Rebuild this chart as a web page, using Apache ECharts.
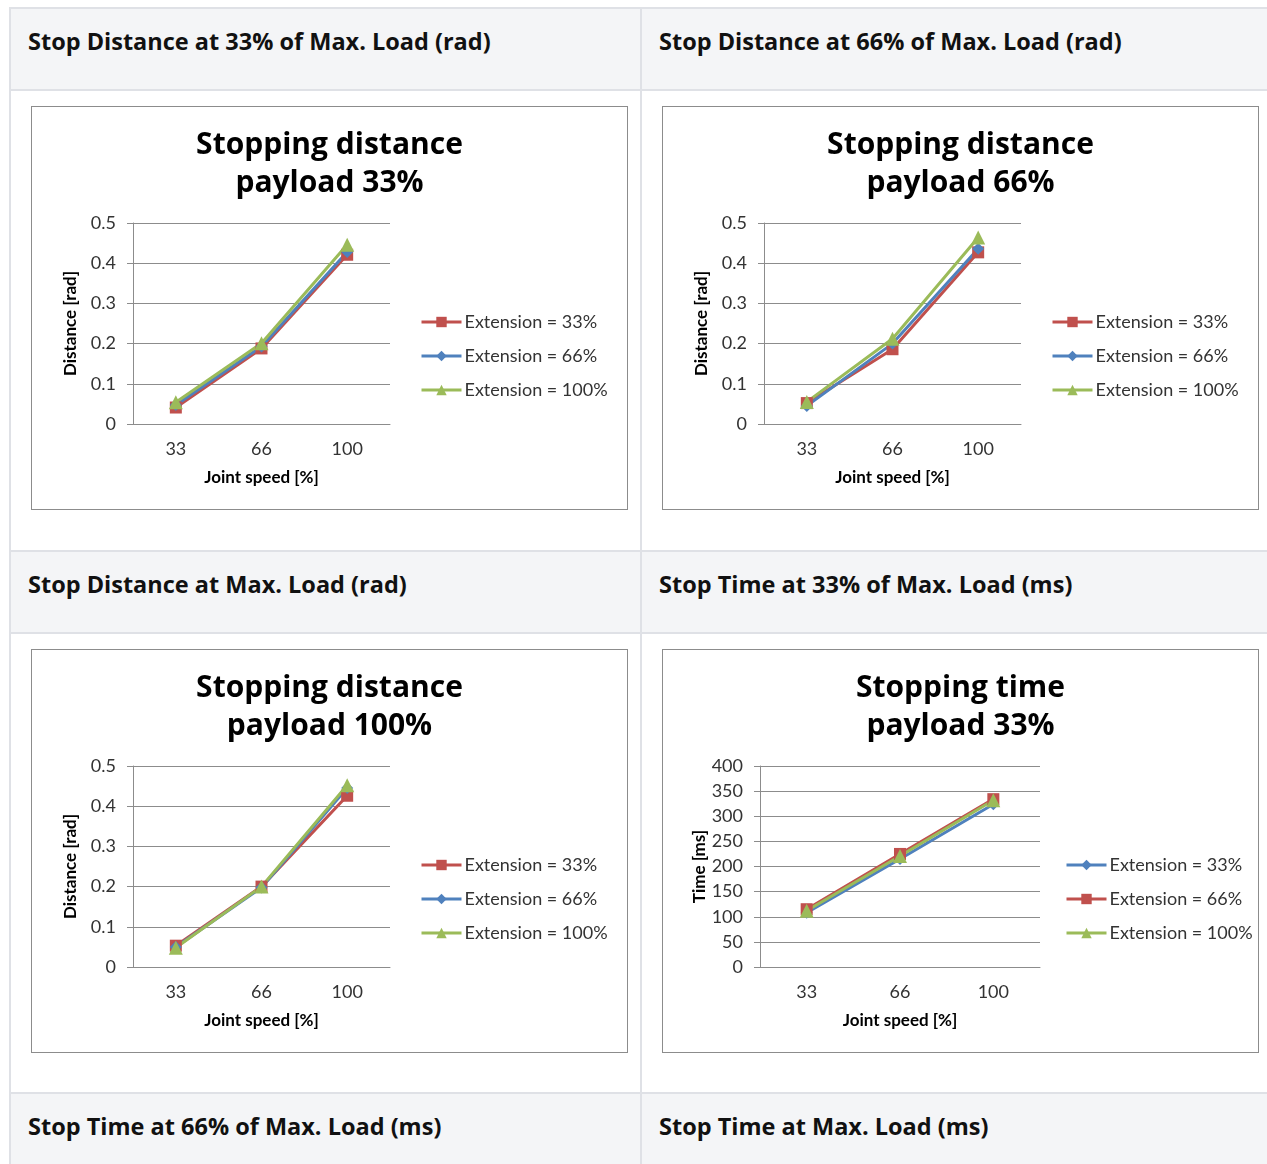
<!DOCTYPE html>
<html>
<head>
<meta charset="utf-8">
<script src="https://cdn.jsdelivr.net/npm/echarts@6/dist/echarts.min.js"></script>
<style>
  html, body { margin: 0; padding: 0; background: #fff; width: 1267px; height: 1164px; overflow: hidden; }
  .cell { position: absolute; box-sizing: border-box; }
  .hdr { background: #f4f5f7; }
  .hdr-text {
    position: absolute; left: 17px; top: 20px;
    font-family: "Open Sans", "Lato", sans-serif; font-weight: 700; font-size: 23.5px; line-height: 24px;
    color: #111; white-space: nowrap;
  }
  .hline { position: absolute; left: 9px; width: 1258px; height: 2px; background: #dfe1e6; }
  .vline { position: absolute; top: 7px; width: 2px; height: 1157px; background: #dfe1e6; }
  .frame { position: absolute; width: 597px; height: 404px; box-sizing: border-box; border: 1px solid #8c8c8c; background: #fff; }
  .frame > div { width: 100%; height: 100%; }
</style>
</head>
<body>
<!-- header row backgrounds -->
<div class="cell hdr" style="left:11px;top:9px;width:1256px;height:80px;"></div>
<div class="cell hdr" style="left:11px;top:552px;width:1256px;height:80px;"></div>
<div class="cell hdr" style="left:11px;top:1094px;width:1256px;height:70px;"></div>

<!-- table rules -->
<div class="hline" style="top:7px"></div>
<div class="hline" style="top:89px"></div>
<div class="hline" style="top:550px"></div>
<div class="hline" style="top:632px"></div>
<div class="hline" style="top:1092px"></div>
<div class="vline" style="left:9px"></div>
<div class="vline" style="left:640px"></div>

<div id="headers"></div>

<div class="frame" style="left:31px;top:106px"><div id="c1"></div></div>
<div class="frame" style="left:662px;top:106px"><div id="c2"></div></div>
<div class="frame" style="left:31px;top:649px"><div id="c3"></div></div>
<div class="frame" style="left:662px;top:649px"><div id="c4"></div></div>

<script>
// Table header texts
const headerTexts = [
  'Stop Distance at 33% of Max. Load (rad)',
  'Stop Distance at 66% of Max. Load (rad)',
  'Stop Distance at Max. Load (rad)',
  'Stop Time at 33% of Max. Load (ms)',
  'Stop Time at 66% of Max. Load (ms)',
  'Stop Time at Max. Load (ms)'
];

// Joint speed categories (x axis)
const speedCategories = ['33', '66', '100'];

// Stopping distance [rad], payload 33%
const distP33Ext33 = [0.041, 0.188, 0.421];
const distP33Ext66 = [0.047, 0.193, 0.428];
const distP33Ext100 = [0.054, 0.201, 0.446];

// Stopping distance [rad], payload 66%
const distP66Ext33 = [0.052, 0.186, 0.427];
const distP66Ext66 = [0.045, 0.200, 0.436];
const distP66Ext100 = [0.055, 0.212, 0.464];

// Stopping distance [rad], payload 100%
const distP100Ext33 = [0.053, 0.200, 0.426];
const distP100Ext66 = [0.050, 0.198, 0.445];
const distP100Ext100 = [0.048, 0.200, 0.452];

// Stopping time [ms], payload 33%
const timeP33Ext33 = [108, 215, 324];
const timeP33Ext66 = [115, 225, 334];
const timeP33Ext100 = [112, 221, 332];

// header cells
const hdrPos = [[11, 9], [642, 9], [11, 552], [642, 552], [11, 1094], [642, 1094]];
const hdrBox = document.getElementById('headers');
headerTexts.forEach((t, i) => {
  const d = document.createElement('div');
  d.className = 'cell';
  d.style.left = hdrPos[i][0] + 'px';
  d.style.top = hdrPos[i][1] + 'px';
  d.style.width = '620px';
  d.style.height = '70px';
  const s = document.createElement('span');
  s.className = 'hdr-text';
  s.textContent = t;
  d.appendChild(s);
  hdrBox.appendChild(d);
});

const RED = '#c0504d', BLUE = '#4f81bd', GREEN = '#9bbb59';
const FONT = 'Lato, "Open Sans", sans-serif';

function lineSeries(name, data, color, symbol, size) {
  return {
    name, type: 'line', data, symbol, symbolSize: size,
    lineStyle: { color, width: 3 },
    itemStyle: { color },
    emphasis: { disabled: true },
    animation: false
  };
}

function makeChart(id, title, yName, yMax, yInterval, gridLeft, gridWidth, legendLeft, series) {
  const chart = echarts.init(document.getElementById(id), null, { renderer: 'canvas' });
  chart.setOption({
    animation: false,
    textStyle: { fontFamily: FONT },
    title: {
      text: title, left: 'center', top: 14,
      textStyle: { fontFamily: '"Open Sans", Lato, sans-serif', fontWeight: 'bold', fontSize: 30, lineHeight: 38, color: '#000' }
    },
    grid: { left: gridLeft, top: 116, width: gridWidth, height: 201 },
    xAxis: {
      type: 'category', data: speedCategories, boundaryGap: true,
      name: 'Joint speed [%]', nameLocation: 'middle', nameGap: 45,
      nameTextStyle: { fontFamily: FONT, fontWeight: 'bold', fontSize: 17, color: '#000' },
      axisLine: { lineStyle: { color: '#8c8c8c', width: 1 } },
      axisTick: { show: false },
      axisLabel: { fontFamily: FONT, fontSize: 18, color: '#333', margin: 16 }
    },
    yAxis: {
      type: 'value', min: 0, max: yMax, interval: yInterval,
      name: yName, nameLocation: 'middle', nameRotate: 90, nameGap: gridLeft - 47,
      nameTextStyle: { fontFamily: FONT, fontWeight: 'bold', fontSize: 17, color: '#000' },
      axisLine: { show: true, lineStyle: { color: '#8c8c8c', width: 1 } },
      axisTick: { show: true, length: 6, lineStyle: { color: '#8c8c8c' } },
      axisLabel: { fontFamily: FONT, fontSize: 18, color: '#333', margin: 17 },
      splitLine: { lineStyle: { color: '#8c8c8c', width: 1 } }
    },
    legend: {
      orient: 'vertical', left: legendLeft, top: 206, padding: 0,
      itemWidth: 40, itemHeight: 13, itemGap: 16,
      selectedMode: false,
      lineStyle: { width: 3 },
      textStyle: { fontFamily: FONT, fontSize: 18, color: '#333', padding: [0, 0, 0, -2] },
      data: series.map(s => s.name)
    },
    series
  });
}

makeChart('c1', 'Stopping distance\npayload 33%', 'Distance [rad]', 0.5, 0.1, 101, 257, 388, [
  lineSeries('Extension = 33%', distP33Ext33, RED, 'rect', 12),
  lineSeries('Extension = 66%', distP33Ext66, BLUE, 'diamond', 12),
  lineSeries('Extension = 100%', distP33Ext100, GREEN, 'triangle', 14)
]);
makeChart('c2', 'Stopping distance\npayload 66%', 'Distance [rad]', 0.5, 0.1, 101, 257, 388, [
  lineSeries('Extension = 33%', distP66Ext33, RED, 'rect', 12),
  lineSeries('Extension = 66%', distP66Ext66, BLUE, 'diamond', 12),
  lineSeries('Extension = 100%', distP66Ext100, GREEN, 'triangle', 14)
]);
makeChart('c3', 'Stopping distance\npayload 100%', 'Distance [rad]', 0.5, 0.1, 101, 257, 388, [
  lineSeries('Extension = 33%', distP100Ext33, RED, 'rect', 12),
  lineSeries('Extension = 66%', distP100Ext66, BLUE, 'diamond', 12),
  lineSeries('Extension = 100%', distP100Ext100, GREEN, 'triangle', 14)
]);
makeChart('c4', 'Stopping time\npayload 33%', 'Time [ms]', 400, 50, 97, 280, 402, [
  lineSeries('Extension = 33%', timeP33Ext33, BLUE, 'diamond', 12),
  lineSeries('Extension = 66%', timeP33Ext66, RED, 'rect', 12),
  lineSeries('Extension = 100%', timeP33Ext100, GREEN, 'triangle', 14)
]);
</script>
</body>
</html>
